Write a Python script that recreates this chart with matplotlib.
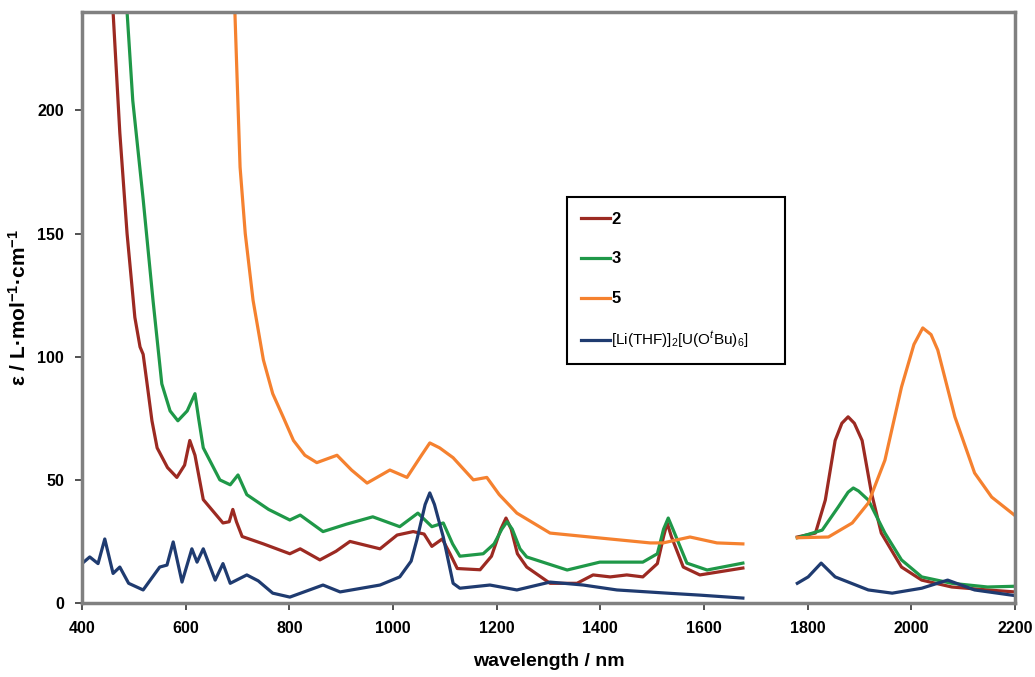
import numpy as np
import matplotlib
matplotlib.use("Agg")
import matplotlib.pyplot as plt

plt.rcParams['font.family'] = ['Liberation Sans', 'DejaVu Sans']
plt.rcParams['mathtext.fontset'] = 'custom'
plt.rcParams['mathtext.rm'] = 'Liberation Sans'
plt.rcParams['mathtext.bf'] = 'Liberation Sans:bold'
plt.rcParams['mathtext.it'] = 'Liberation Sans:italic'

nan = np.nan

# compound 2 (red)
wl_2 = [460, 473, 487, 502, 512, 518, 525, 535, 545, 565, 583, 598, 608, 618, 634, 672, 684, 691,
        698, 709, 750, 801, 821, 859, 890, 917, 975, 1008, 1039, 1060, 1075, 1095, 1110, 1124,
        1168, 1190, 1208, 1218, 1228, 1240, 1258, 1303, 1355, 1386, 1419, 1451, 1482, 1510,
        1522, 1529, 1537, 1560, 1592, 1675, 1730,
        1780, 1815, 1834, 1853, 1866, 1878, 1890, 1905, 1923, 1942, 1981, 2020, 2078, 2147, 2200]
eps_2 = [240, 191, 150, 116, 104, 101, 90, 74, 63, 55, 51, 56, 66, 60, 42, 32.5, 33, 38,
         33, 27, 24, 20, 22, 17.5, 21, 25, 22, 27.6, 29, 28, 23, 26, 20, 14,
         13.5, 19, 30, 34.5, 30, 20, 14.6, 8, 8, 11.4, 10.6, 11.4, 10.6, 16,
         27, 32.5, 27, 14.6, 11.4, 14.2, nan,
         26.8, 28.4, 41.8, 66, 73, 75.6, 73, 66, 44.7, 28.4, 14.6, 9.3, 6.5, 5.3, 4.5]

# compound 3 (green)
wl_3 = [487, 498, 518, 537, 554, 570, 585, 603, 618, 625, 634, 666, 686, 701, 718, 760, 801,
        821, 865, 910, 961, 1013, 1048, 1075, 1097, 1115, 1129, 1174, 1195, 1210, 1220, 1230,
        1245, 1258, 1336, 1399, 1482, 1510, 1522, 1531, 1540, 1567, 1606, 1675, 1730,
        1780, 1828, 1859, 1878, 1888, 1898, 1917, 1949, 1981, 2020, 2078, 2147, 2200]
eps_3 = [240, 204, 164, 123, 89, 78, 74, 78, 85, 75, 63, 50, 48, 52, 44, 38, 33.7,
         35.7, 29, 32, 35, 31, 36.5, 31, 32.5, 24, 19, 20, 24, 30, 33, 30,
         22, 18.7, 13.4, 16.6, 16.6, 20, 30, 34.5, 30, 16.2, 13.4, 16.2, nan,
         26.5, 29.6, 39, 45, 46.7, 45.5, 41.8, 28.4, 17.5, 10.6, 8, 6.5, 6.8]

# compound 5 (orange)
wl_5 = [695, 705, 715, 730, 750, 768, 788, 808, 830, 853, 892, 920, 950, 994, 1027, 1055, 1071,
        1090, 1116, 1155, 1181, 1205, 1239, 1303, 1399, 1496, 1521, 1573, 1625, 1675, 1730,
        1780, 1840, 1886, 1917, 1949, 1981, 2005, 2022, 2038, 2051, 2084, 2122, 2155, 2200]
eps_5 = [240, 177, 150, 123, 98.7, 85, 75.6, 66, 60, 57, 60, 54, 48.7, 54, 51, 60, 65,
         63, 59, 50, 51, 44, 36.5, 28.4, 26.4, 24.4, 24.4, 26.8, 24.4, 24, nan,
         26.5, 26.8, 32.5, 40.6, 58, 87.7, 105, 111.7, 109, 102.7, 75.6, 52.8, 43, 35.5]

# [Li(THF)]2[U(OtBu)6] (blue)
wl_u = [400, 415, 431, 444, 460, 473, 490, 518, 550, 564, 576, 593, 612, 622, 634, 657, 672, 686,
        718, 740, 768, 801, 865, 898, 975, 1013, 1035, 1046, 1062, 1071, 1080, 1097, 1116, 1129,
        1187, 1239, 1303, 1367, 1432, 1529, 1592, 1675, 1730,
        1780, 1801, 1826, 1853, 1917, 1963, 2020, 2070, 2122, 2200]
eps_u = [16, 18.7, 16, 26, 12, 14.6, 8, 5.3, 14.6, 15.4, 24.8, 8.5, 22, 16.6, 22, 9.3, 16, 8,
         11.4, 9, 4, 2.4, 7.3, 4.5, 7.3, 10.6, 17, 25.6, 40, 44.7, 40, 26.8, 8, 6,
         7.3, 5.3, 8.5, 7.3, 5.3, 4, 3.2, 2, nan,
         8, 10.6, 16.2, 10.6, 5.3, 4, 6, 9.3, 5.3, 3]

series = [
    (wl_2, eps_2, '#9c2a22', r'$\mathbf{2}$'),
    (wl_3, eps_3, '#1f9848', r'$\mathbf{3}$'),
    (wl_5, eps_5, '#f5812f', r'$\mathbf{5}$'),
    (wl_u, eps_u, '#1f3b70', r'[Li(THF)]$_\mathrm{2}$[U(O$^\mathit{t}$Bu)$_\mathrm{6}$]'),
]

fig = plt.figure(figsize=(10.35, 6.77), dpi=100)
ax = fig.add_axes([0.0792, 0.1093, 0.9015, 0.873])

for wl, eps, col, lab in series:
    ax.plot(wl, eps, color=col, lw=2.3, label=lab, solid_joinstyle='round')

ax.set_xlim(400, 2200)
ax.set_ylim(0, 240)
ax.set_xticks(range(400, 2201, 200))
ax.set_yticks(range(0, 201, 50))

for s in ax.spines.values():
    s.set_color('#808080')
    s.set_linewidth(2.5)

ax.tick_params(direction='out', length=5, width=1.2, color='#333333', pad=8,
               labelsize=11.5, top=False, right=False)
for t in ax.get_xticklabels() + ax.get_yticklabels():
    t.set_fontweight('bold')

ax.set_xlabel('wavelength / nm', fontsize=14, fontweight='bold', labelpad=12)
ax.set_ylabel(r'ε / L·mol$^{\mathbf{-1}}$·cm$^{\mathbf{-1}}$', fontsize=15,
              fontweight='bold', labelpad=5)

leg = ax.legend(loc='upper left', bbox_to_anchor=(0.52, 0.411, 0.233, 0.276),
                mode='expand', borderaxespad=0, fontsize=11, handlelength=1.9,
                handletextpad=0.1, labelspacing=1.55, borderpad=0.9, fancybox=False,
                framealpha=1)
leg.get_frame().set_edgecolor('black')
leg.get_frame().set_linewidth(1.5)
for t in leg.get_texts()[:3]:
    t.set_fontweight('bold')
    t.set_fontsize(12)

fig.savefig('out.png', dpi=100)
